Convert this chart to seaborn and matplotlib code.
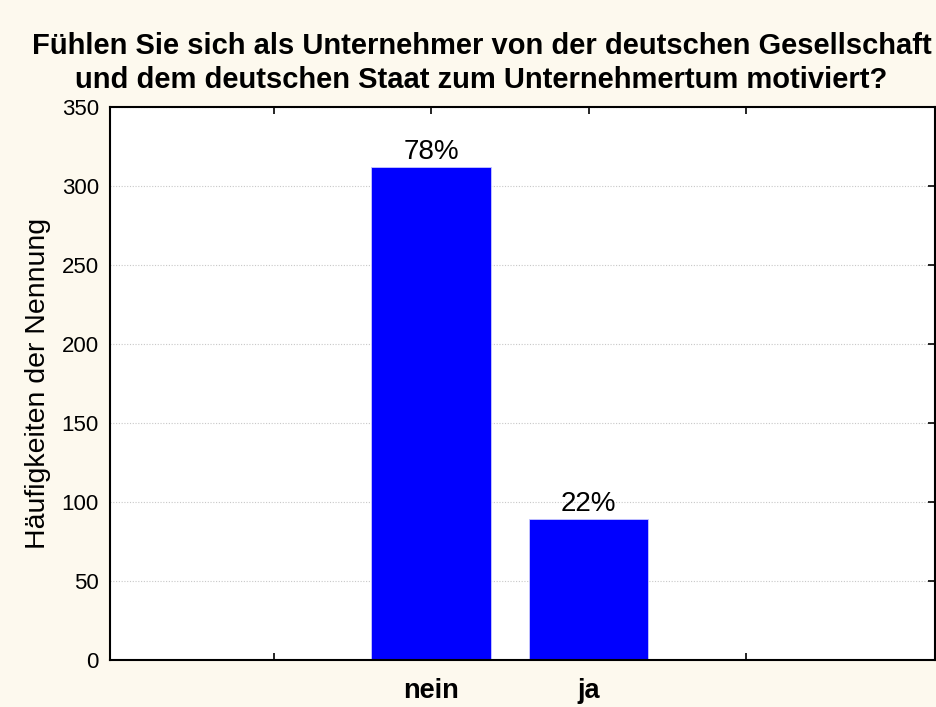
import matplotlib
matplotlib.use("Agg")
import matplotlib.pyplot as plt
import seaborn as sns
import pandas as pd

categories = ["nein", "ja"]
counts = [312, 89]
percent_labels = ["78%", "22%"]

title = ("Fühlen Sie sich als Unternehmer von der deutschen Gesellschaft\n"
         "und dem deutschen Staat zum Unternehmertum motiviert?")
ylabel = "Häufigkeiten der Nennung"

bg = "#fdf9ee"
sns.set_style("white")
plt.rcParams["font.family"] = ["Liberation Sans", "DejaVu Sans"]
plt.rcParams["text.color"] = "black"
plt.rcParams["axes.labelcolor"] = "black"

df = pd.DataFrame({"antwort": categories, "anzahl": counts})

fig = plt.figure(figsize=(9.37, 7.07), dpi=100, facecolor=bg)
ax = fig.add_axes([0.1174, 0.0665, 0.8805, 0.7822])
ax.set_facecolor("white")

sns.barplot(data=df, x="antwort", y="anzahl", color="#0000ff", saturation=1,
            width=0.76, edgecolor="#c8c8ff", linewidth=0.6, ax=ax, zorder=2)

for i, (v, lab) in enumerate(zip(counts, percent_labels)):
    ax.text(i, v + 1.5, lab, ha="center", va="bottom", fontsize=20, color="black")

ax.set_xlim(-2.04, 3.2)
ax.set_ylim(0, 350)
ax.set_xticks([-1, 0, 1, 2])
ax.set_xticklabels(["", "nein", "ja", ""], fontsize=19.5, fontweight="bold")
ax.set_yticks(range(0, 351, 50))
ax.set_yticklabels([str(t) for t in range(0, 351, 50)], fontsize=16)
ax.set_xlabel("")
ax.set_ylabel(ylabel, fontsize=20.5, labelpad=8)

ax.yaxis.grid(True, linestyle=(0, (1, 1.5)), color="#c8c8c8", linewidth=0.8, zorder=0)
ax.xaxis.grid(False)
ax.set_axisbelow(True)

ax.tick_params(axis="x", which="both", direction="in", top=True, bottom=True,
               length=5, width=1.2, pad=13, colors="black")
ax.tick_params(axis="y", which="both", direction="in", left=False, right=True,
               length=5, width=1.2, pad=8, colors="black")

for s in ax.spines.values():
    s.set_visible(True)
    s.set_color("black")
    s.set_linewidth(1.5)

fig.text(0.514, 0.955, title, ha="center", va="top", fontsize=21,
         fontweight="bold", linespacing=1.3)

fig.savefig("out.png", dpi=100, facecolor=bg)
